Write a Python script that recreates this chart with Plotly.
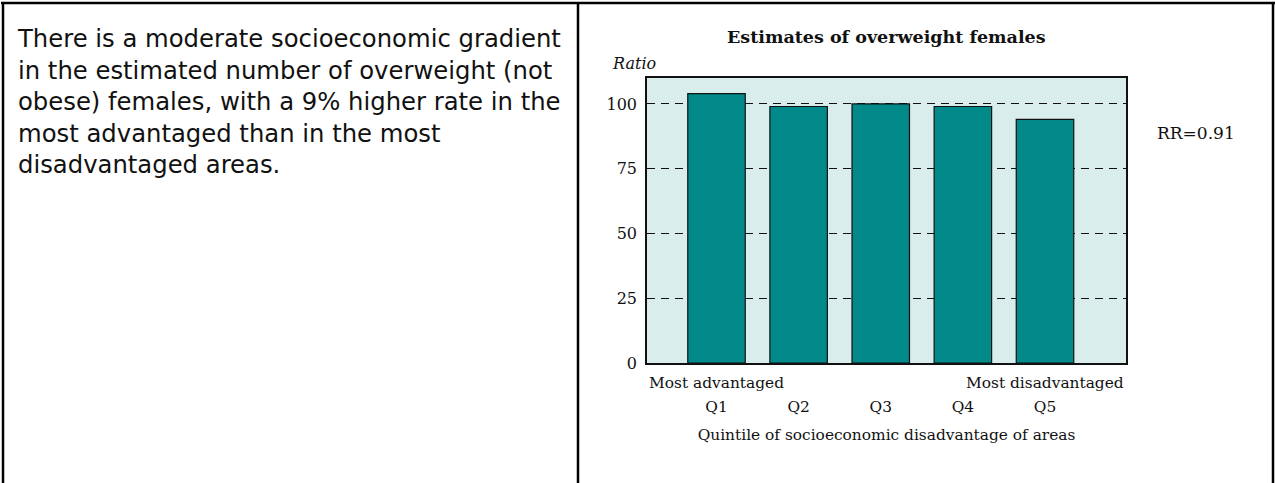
import plotly.graph_objects as go

# ---- data ----
quintiles = ["Q1", "Q2", "Q3", "Q4", "Q5"]
ratios = [104, 99, 100, 99, 94]
end_labels = {"Q1": "Most advantaged", "Q5": "Most disadvantaged"}
y_ticks = [0, 25, 50, 75, 100]
chart_title = "Estimates of overweight females"
y_title = "Ratio"
x_title = "Quintile of socioeconomic disadvantage of areas"
rr_text = "RR=0.91"
paragraph = [
    "There is a moderate socioeconomic gradient",
    "in the estimated number of overweight (not",
    "obese) females, with a 9% higher rate in the",
    "most advantaged than in the most",
    "disadvantaged areas.",
]

W, H = 1275, 483
L, R, T, B = 647, 1126, 78, 363  # plot area in pixels


def px(x):
    return (x - L) / (R - L)


def py(y):
    return (B - y) / (B - T)


serif = "DejaVu Serif"
sans = "DejaVu Sans"
ink = "#111111"

fig = go.Figure()
fig.add_trace(go.Bar(
    x=quintiles, y=ratios,
    marker=dict(color="#028A8A", line=dict(color=ink, width=1.2)),
    width=0.7, hoverinfo="x+y",
))

annotations = []
annotations.append(dict(text="<b>%s</b>" % chart_title, x=0.5, y=py(37), xref="paper", yref="paper",
                        showarrow=False, xanchor="center", yanchor="middle",
                        font=dict(family=serif, size=17.5, color=ink)))
annotations.append(dict(text="<i>%s</i>" % y_title, x=px(610), y=py(63), xref="paper", yref="paper",
                        showarrow=False, xanchor="left", yanchor="middle",
                        font=dict(family=serif, size=16, color=ink)))
annotations.append(dict(text=rr_text, x=px(1155), y=py(133), xref="paper", yref="paper",
                        showarrow=False, xanchor="left", yanchor="middle",
                        font=dict(family=serif, size=17, color=ink)))
for q, lab in end_labels.items():
    annotations.append(dict(text=lab, x=q, y=py(383), xref="x", yref="paper",
                            showarrow=False, xanchor="center", yanchor="middle",
                            font=dict(family=serif, size=15.4, color=ink)))
annotations.append(dict(text="<br>".join(paragraph), x=px(15), y=py(22), xref="paper", yref="paper",
                        showarrow=False, xanchor="left", yanchor="top", align="left",
                        font=dict(family=sans, size=24.3, color=ink)))

shapes = [
    dict(type="line", xref="paper", yref="paper", x0=px(1), x1=px(1276), y0=py(3), y1=py(3),
         line=dict(color="black", width=2.5)),
    dict(type="line", xref="paper", yref="paper", x0=px(3), x1=px(3), y0=py(2), y1=py(484),
         line=dict(color="black", width=2.5)),
    dict(type="line", xref="paper", yref="paper", x0=px(578), x1=px(578), y0=py(2), y1=py(484),
         line=dict(color="black", width=2.5)),
    dict(type="line", xref="paper", yref="paper", x0=px(1273), x1=px(1273), y0=py(2), y1=py(484),
         line=dict(color="black", width=2.5)),
]

fig.update_layout(
    width=W, height=H,
    margin=dict(l=L, r=W - R, t=T, b=H - B, autoexpand=False),
    paper_bgcolor="white", plot_bgcolor="#DAEDED",
    showlegend=False, bargap=0.3,
    annotations=annotations, shapes=shapes,
    font=dict(family=serif, size=15, color=ink),
)
fig.update_xaxes(
    tickvals=quintiles, ticktext=quintiles, showgrid=False,
    showline=True, linecolor=ink, linewidth=1.5, mirror=True,
    ticks="", ticklabelstandoff=29,
    tickfont=dict(family=serif, size=15.4, color=ink),
    title=dict(text=x_title, standoff=14, font=dict(family=serif, size=15.4, color=ink)),
)
fig.update_yaxes(
    range=[0, 110], tickvals=y_ticks, showline=True, linecolor=ink, linewidth=1.5,
    mirror=True, ticks="inside", ticklen=5, tickcolor=ink, ticklabelstandoff=5,
    showgrid=True, gridcolor=ink, gridwidth=1, griddash="8px,6px",
    zeroline=False, tickfont=dict(family=serif, size=16, color=ink),
)

fig.write_html("out.html", config={"displayModeBar": False},
               post_script="document.body.style.margin='0';")
